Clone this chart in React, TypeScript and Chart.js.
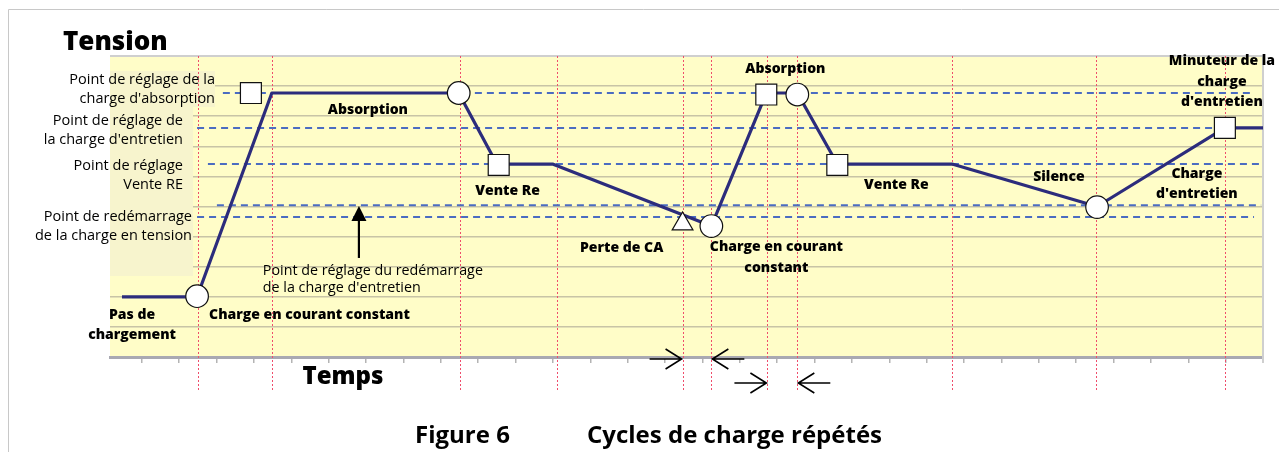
import React, { useEffect, useRef } from "react";
import { Chart, registerables } from "chart.js";

Chart.register(...registerables);

// ---- Data (time units on x, voltage level units on y) ----
const timeTicks = [0, 1, 2, 3, 4, 5, 6, 7, 8, 9, 10, 11, 12, 13, 14, 15, 16, 17, 18, 19, 20, 21, 22, 23, 24, 25, 26, 27, 28, 29, 30];
const levelTicks = [0, 1, 2, 3, 4, 5, 6, 7, 8, 9, 10];

const pathT = [-0.53, 1.48, 3.48, 8.48, 9.5, 10.99, 15.24, 16.71, 17.54, 18.61, 21.68, 25.56, 28.98, 30];
const pathV = [2.0, 2.0, 8.77, 8.77, 6.41, 6.41, 4.35, 8.77, 8.77, 6.41, 6.41, 5.0, 7.61, 7.61];

const circleT = [1.48, 8.48, 15.24, 17.54, 25.56];
const circleV = [2.02, 8.77, 4.35, 8.72, 4.98];
const squareT = [2.92, 9.55, 16.71, 18.61, 28.98];
const squareV = [8.77, 6.38, 8.72, 6.38, 7.61];
const triangleT = [14.47];
const triangleV = [4.42];

const setpointNames = ["absorption", "entretien", "venteRE", "redemarrageEntretien", "redemarrageTension"];
const setpointLevels = [8.77, 7.61, 6.41, 5.04, 4.65];
const setpointStart = [2.17, 1.48, 1.77, 2.01, 1.48];
const setpointEnd = [29.76, 30, 30, 29.95, 29.76];

const phaseLinesT = [1.5, 3.48, 8.51, 11.1, 14.47, 15.24, 16.74, 17.54, 21.68, 25.53, 28.98];

// in-plot annotations [lines, t, v(first line)]
const boldNotes: { lines: string[]; t: number; v: number; align?: CanvasTextAlign }[] = [
  { lines: ["Absorption"], t: 6.05, v: 8.21 },
  { lines: ["Vente Re"], t: 9.79, v: 5.51 },
  { lines: ["Perte de CA"], t: 12.84, v: 3.62 },
  { lines: ["Charge en courant", "constant"], t: 16.98, v: 3.65 },
  { lines: ["Absorption"], t: 17.22, v: 9.57 },
  { lines: ["Vente Re"], t: 20.19, v: 5.71 },
  { lines: ["Silence"], t: 24.54, v: 5.98 },
  { lines: ["Charge", "d'entretien"], t: 28.23, v: 6.08 },
  { lines: ["Minuteur de la", "charge", "d'entretien"], t: 28.9, v: 9.83 },
  { lines: ["Pas de", "chargement"], t: -0.26, v: 1.4 },
  { lines: ["Charge en courant constant"], t: 1.8, v: 1.4, align: "left" },
];
const restartNote = { lines: ["Point de réglage du redémarrage", "de la charge d'entretien"], t: 3.24, v: 2.86 };
const restartArrow = { t: 5.81, from: 3.29, to: 5.02 };

const sideLabels: { lines: string[]; right: number; y: number }[] = [
  { lines: ["Point de réglage de la", "charge d'absorption"], right: 215, y: 80 },
  { lines: ["Point de réglage de", "la charge d'entretien"], right: 183, y: 121 },
  { lines: ["Point de réglage", "Vente RE"], right: 183, y: 166 },
  { lines: ["Point de redémarrage", "de la charge en tension"], right: 192, y: 217 },
];

// interval arrows below axis
const intervalArrows = [
  { t: 14.47, dir: 1, row: 0 },
  { t: 15.24, dir: -1, row: 0 },
  { t: 16.74, dir: 1, row: 1 },
  { t: 17.54, dir: -1, row: 1 },
];

const FONT = '"Open Sans", "Noto Sans", sans-serif';
const NAVY = "#2c2c7c";
const DASH_BLUE = "#4b6cc1";

const zip = (a: number[], b: number[]) => a.map((x, i) => ({ x, y: b[i] }));

const decor = {
  id: "decor",
  beforeDraw(chart: any) {
    const { ctx, chartArea: a } = chart;
    ctx.save();
    ctx.fillStyle = "#ffffff";
    ctx.fillRect(0, 0, chart.width, chart.height);
    ctx.strokeStyle = "#c8c8c8";
    ctx.lineWidth = 1;
    ctx.beginPath();
    ctx.moveTo(8.5, chart.height);
    ctx.lineTo(8.5, 9.5);
    ctx.lineTo(chart.width, 9.5);
    ctx.stroke();
    ctx.fillStyle = "#fffdc8";
    ctx.fillRect(a.left, a.top, a.right - a.left, a.bottom - a.top);
    ctx.restore();
  },
  beforeDatasetsDraw(chart: any) {
    const { ctx, chartArea: a, scales } = chart;
    const xs = scales.x;
    ctx.save();
    ctx.fillStyle = "#f7f4cd";
    ctx.fillRect(a.left, 71, 215 - a.left, 36);
    ctx.fillRect(a.left, 107, 193 - a.left, 169);
    ctx.strokeStyle = "#cfcfcf";
    ctx.lineWidth = 2;
    ctx.beginPath();
    ctx.moveTo(a.left, a.top);
    ctx.lineTo(a.right, a.top);
    ctx.lineTo(a.right, a.bottom + 6);
    ctx.stroke();
    ctx.strokeStyle = "#ef4d6b";
    ctx.lineWidth = 1;
    ctx.setLineDash([2, 2]);
    phaseLinesT.forEach((t) => {
      const x = Math.round(xs.getPixelForValue(t)) + 0.5;
      ctx.beginPath();
      ctx.moveTo(x, a.top);
      ctx.lineTo(x, 392);
      ctx.stroke();
    });
    ctx.restore();
  },
  afterDraw(chart: any) {
    const { ctx, scales } = chart;
    const xs = scales.x;
    const ys = scales.y;
    ctx.save();
    ctx.fillStyle = "#000";
    ctx.textBaseline = "middle";

    ctx.font = `800 26px ${FONT}`;
    ctx.textAlign = "left";
    ctx.fillText("Tension", 63, 43);
    ctx.font = `800 24px ${FONT}`;
    ctx.textAlign = "center";
    ctx.fillText("Temps", 343, 377);
    ctx.font = `bold 24px ${FONT}`;
    ctx.textAlign = "left";
    ctx.fillText("Figure 6", 415, 436);
    ctx.fillText("Cycles de charge répétés", 587, 436);

    ctx.font = `14.5px ${FONT}`;
    ctx.textAlign = "right";
    sideLabels.forEach((s) => {
      s.lines.forEach((l, i) => ctx.fillText(l, s.right, s.y + i * 18.5));
    });

    ctx.font = `800 14px ${FONT}`;
    boldNotes.forEach((n) => {
      ctx.textAlign = n.align || "center";
      const x = xs.getPixelForValue(n.t);
      const y0 = ys.getPixelForValue(n.v);
      n.lines.forEach((l, i) => ctx.fillText(l, x, y0 + i * 20.5));
    });

    ctx.font = `14.3px ${FONT}`;
    ctx.textAlign = "left";
    const rx = xs.getPixelForValue(restartNote.t);
    const ry = ys.getPixelForValue(restartNote.v);
    restartNote.lines.forEach((l, i) => ctx.fillText(l, rx, ry + i * 17.5));

    const ax = xs.getPixelForValue(restartArrow.t);
    const ay1 = ys.getPixelForValue(restartArrow.from);
    const ay2 = ys.getPixelForValue(restartArrow.to);
    ctx.strokeStyle = "#000";
    ctx.lineWidth = 2.2;
    ctx.beginPath();
    ctx.moveTo(ax, ay1);
    ctx.lineTo(ax, ay2 + 10);
    ctx.stroke();
    ctx.beginPath();
    ctx.moveTo(ax, ay2);
    ctx.lineTo(ax - 7.5, ay2 + 15);
    ctx.lineTo(ax + 7.5, ay2 + 15);
    ctx.closePath();
    ctx.fill();

    ctx.lineWidth = 1.6;
    intervalArrows.forEach((r) => {
      const tipX = xs.getPixelForValue(r.t) - r.dir * 1;
      const y = r.row === 0 ? 359 : 383;
      const tailX = tipX - r.dir * 32;
      ctx.beginPath();
      ctx.moveTo(tailX, y);
      ctx.lineTo(tipX, y);
      ctx.moveTo(tipX - r.dir * 16, y - 10);
      ctx.lineTo(tipX, y);
      ctx.lineTo(tipX - r.dir * 16, y + 10);
      ctx.stroke();
    });
    ctx.restore();
  },
};

const App = () => {
  const ref = useRef<HTMLCanvasElement>(null);
  useEffect(() => {
    const canvas = ref.current!;
    const marker = {
      type: "line" as const,
      showLine: false,
      pointBackgroundColor: "#ffffff",
      pointBorderColor: "#111111",
      pointBorderWidth: 1.2,
      order: 0,
    };
    const chart = new Chart(canvas, {
      type: "line",
      data: {
        datasets: [
          { ...marker, label: "circles", data: zip(circleT, circleV), pointStyle: "circle", pointRadius: 11.3 },
          { ...marker, label: "squares", data: zip(squareT, squareV), pointStyle: "rect", pointRadius: 14.8 },
          { ...marker, label: "triangle", data: zip(triangleT, triangleV), pointStyle: "triangle", pointRadius: 12 },
          {
            label: "tension",
            data: zip(pathT, pathV),
            borderColor: NAVY,
            borderWidth: 3.2,
            pointRadius: 0,
            borderJoinStyle: "round",
            borderCapStyle: "butt",
            order: 1,
          },
          ...setpointNames.map((n, i) => ({
            label: n,
            data: [
              { x: setpointStart[i], y: setpointLevels[i] },
              { x: setpointEnd[i], y: setpointLevels[i] },
            ],
            borderColor: DASH_BLUE,
            borderWidth: 2,
            borderDash: [7, 5],
            pointRadius: 0,
            order: 2,
          })),
        ] as any,
      },
      options: {
        animation: false,
        responsive: false,
        devicePixelRatio: 1,
        events: [],
        layout: { padding: { left: 110, right: 15, top: 56, bottom: 95 } },
        plugins: { legend: { display: false }, tooltip: { enabled: false }, title: { display: false } },
        scales: {
          x: {
            type: "linear",
            min: -0.85,
            max: 30,
            afterBuildTicks: (s: any) => {
              s.ticks = timeTicks.map((v) => ({ value: v }));
            },
            afterFit: (s: any) => {
              s.height = 0;
            },
            ticks: { display: false },
            grid: { drawOnChartArea: false, drawTicks: true, tickLength: 6, color: "#b4b4b4", lineWidth: 1.5 },
            border: { display: true, color: "#a9a9b2", width: 3 },
          },
          y: {
            type: "linear",
            min: 0,
            max: 10,
            afterBuildTicks: (s: any) => {
              s.ticks = levelTicks.map((v) => ({ value: v }));
            },
            afterFit: (s: any) => {
              s.width = 0;
            },
            ticks: { display: false },
            grid: {
              drawTicks: false,
              lineWidth: 1.6,
              color: (c: any) => (c.tick && (c.tick.value === 0 || c.tick.value === 10) ? "rgba(0,0,0,0)" : "#c8c4a6"),
            },
            border: { display: false },
          },
        },
      },
      plugins: [decor],
    });
    return () => chart.destroy();
  }, []);
  return (
    <div style={{ position: "fixed", left: 0, top: 0, width: 1279, height: 452, background: "#fff" }}>
      <canvas ref={ref} width={1279} height={452} style={{ width: 1279, height: 452, display: "block" }} />
    </div>
  );
};

export default App;
